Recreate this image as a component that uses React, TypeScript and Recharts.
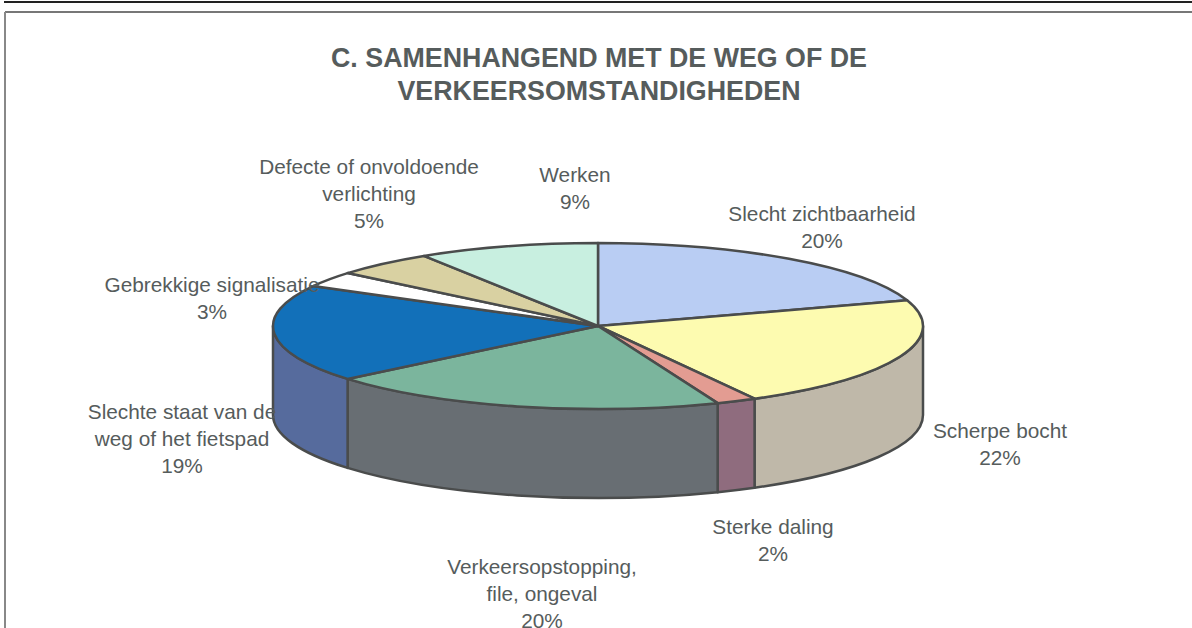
import { PieChart, Pie } from "recharts";

const titleLines = ["C. SAMENHANGEND MET DE WEG OF DE", "VERKEERSOMSTANDIGHEDEN"];

const categories = [
  ["Slecht zichtbaarheid"],
  ["Scherpe bocht"],
  ["Sterke daling"],
  ["Verkeersopstopping,", "file, ongeval"],
  ["Slechte staat van de", "weg of het fietspad"],
  ["Gebrekkige signalisatie"],
  ["Defecte of onvoldoende", "verlichting"],
  ["Werken"],
];
const shares = [20, 22, 2, 20, 19, 3, 5, 9];
const topColors = ["#b9cdf3", "#fdfbb0", "#e39c92", "#7bb59d", "#1270b9", "#ffffff", "#d9d1a2", "#c8efe0"];
const wallColors = ["#8f9ab5", "#bfb8a9", "#8f6c7e", "#686e73", "#566b9d", "#bbbbbb", "#a39d7c", "#95b3a8"];

// where each label block starts (first line baseline), same order as categories
const labelSpots = [
  { x: 822, y: 221 },
  { x: 1000, y: 438 },
  { x: 773, y: 534 },
  { x: 542, y: 574 },
  { x: 182, y: 419 },
  { x: 212, y: 292 },
  { x: 369, y: 174 },
  { x: 575, y: 182 },
];

const rows = categories.map((lines, i) => ({
  name: lines.join(" "),
  lines,
  value: shares[i],
  fill: topColors[i],
  wall: wallColors[i],
}));

const CX = 598;
const CY = 326;
const RX = 325;
const TILT = 83 / 325;
const DEPTH = 89;
const TEXT = "#565c5c";
const EDGE = "#4a4c4c";

function point(deg: number, r: number) {
  const a = (deg * Math.PI) / 180;
  return { x: CX + r * Math.cos(a), y: CY - r * TILT * Math.sin(a) };
}

function SliceShape(props: any) {
  const { startAngle, endAngle, outerRadius: r, fill } = props;
  const wall = props.wall ?? props.payload?.wall;
  const from = point(startAngle, r);
  const to = point(endAngle, r);
  const ry = r * TILT;
  const large = Math.abs(startAngle - endAngle) > 180 ? 1 : 0;
  const top = `M${CX},${CY} L${from.x},${from.y} A${r},${ry} 0 ${large} 1 ${to.x},${to.y} Z`;

  // only the part of the rim facing the viewer gets a side wall
  const a1 = Math.min(startAngle, 0);
  const a2 = Math.max(endAngle, -180);
  let side = null;
  if (a1 > a2) {
    const p1 = point(a1, r);
    const p2 = point(a2, r);
    const d = `M${p1.x},${p1.y} A${r},${ry} 0 0 1 ${p2.x},${p2.y} L${p2.x},${p2.y + DEPTH} A${r},${ry} 0 0 0 ${p1.x},${p1.y + DEPTH} Z`;
    side = <path d={d} fill={wall} stroke={EDGE} strokeWidth={2.5} strokeLinejoin="round" />;
  }
  return (
    <g>
      {side}
      <path d={top} fill={fill} stroke={EDGE} strokeWidth={2.5} strokeLinejoin="round" />
    </g>
  );
}

function renderLabel(props: any) {
  const spot = labelSpots[props.index];
  const row = rows[props.index];
  const lines = [...row.lines, `${row.value}%`];
  return (
    <text x={spot.x} y={spot.y} textAnchor="middle" fontSize={20.8} fill={TEXT} fontFamily="Liberation Sans">
      {lines.map((line, i) => (
        <tspan key={i} x={spot.x} dy={i === 0 ? 0 : 27}>
          {line}
        </tspan>
      ))}
    </text>
  );
}

export default function App() {
  return (
    <div style={{ position: "absolute", left: 0, top: 0, width: 1192, height: 628, background: "#fff", overflow: "hidden" }}>
      <PieChart width={1192} height={628} margin={{ top: 0, right: 0, bottom: 0, left: 0 }}>
        <line x1={4} y1={2} x2={1192} y2={2} stroke="#222" strokeWidth={2} />
        <line x1={5} y1={12} x2={1192} y2={12} stroke="#777" strokeWidth={2} />
        <line x1={5} y1={12} x2={5} y2={628} stroke="#888" strokeWidth={2} />
        {titleLines.map((line, i) => (
          <text key={line} x={599} y={67 + i * 33} textAnchor="middle" fontSize={26.8} fontWeight="bold" fill={TEXT} fontFamily="Liberation Sans">
            {line}
          </text>
        ))}
        {/* labels go in a first, invisible pie so the real slices sit on top of them */}
        <Pie
          data={rows}
          dataKey="value"
          nameKey="name"
          cx={CX}
          cy={CY}
          outerRadius={RX}
          startAngle={90}
          endAngle={-270}
          fill="none"
          stroke="none"
          shape={() => <g />}
          label={renderLabel}
          labelLine={false}
          isAnimationActive={false}
        />
        <Pie
          data={rows}
          dataKey="value"
          nameKey="name"
          cx={CX}
          cy={CY}
          outerRadius={RX}
          startAngle={90}
          endAngle={-270}
          shape={SliceShape}
          isAnimationActive={false}
        />
      </PieChart>
    </div>
  );
}
